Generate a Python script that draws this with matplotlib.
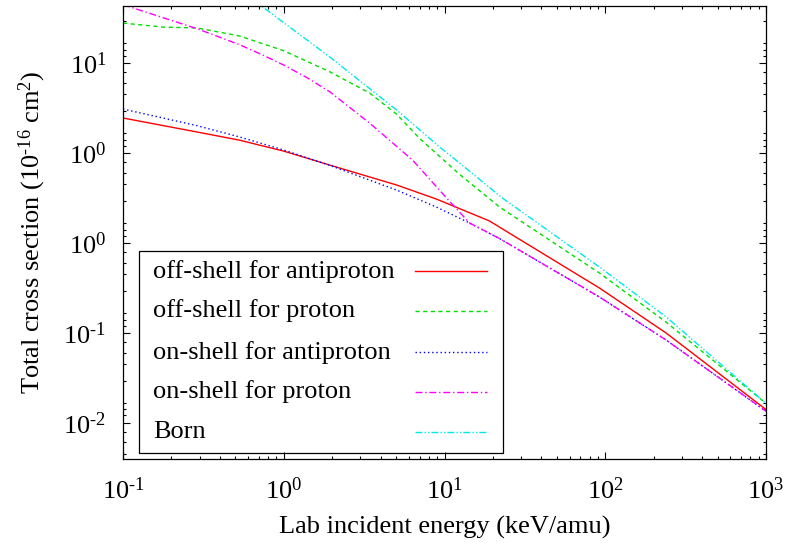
import numpy as np
import matplotlib.pyplot as plt
from matplotlib.ticker import FixedLocator, FixedFormatter, LogLocator, NullFormatter
from matplotlib.patches import Rectangle
from matplotlib.lines import Line2D

plt.rcParams['font.family'] = 'Liberation Serif'
plt.rcParams['mathtext.fontset'] = 'custom'
plt.rcParams['mathtext.rm'] = 'Liberation Serif'
plt.rcParams['mathtext.it'] = 'Liberation Serif:italic'
plt.rcParams['font.size'] = 19

# energies in keV/amu, cross sections in 1e-16 cm^2
e_off_pbar = [0.1, 0.29, 0.53, 1.0, 1.93, 5.04, 8.9, 19, 22, 92, 239, 1000]
s_off_pbar = [24.5, 17.1, 13.9, 10.5, 7.35, 4.41, 3.08, 1.76, 1.50, 0.316, 0.100, 0.0141]

e_off_p = [0.1, 0.177, 0.29, 0.53, 1.0, 1.93, 3.42, 5.04, 7.0, 12.4, 22, 92, 239, 1000]
s_off_p = [278, 251, 245, 200, 137, 80, 46.4, 27.0, 14.5, 5.8, 2.51, 0.464, 0.132, 0.0165]

e_on_pbar = [0.1, 0.29, 0.53, 1.0, 1.93, 5.04, 8.9, 14.3, 22, 92, 239, 1000]
s_on_pbar = [30.8, 20.1, 15.1, 10.8, 7.3, 3.87, 2.51, 1.67, 1.12, 0.251, 0.0836, 0.0135]

e_on_p = [0.1, 0.29, 0.53, 0.73, 1.0, 1.39, 1.93, 3.42, 6.32, 10.3, 14.3, 22, 92, 239, 1000]
s_on_p = [445, 240, 160, 124, 95, 69, 48, 21.5, 8.36, 3.16, 1.67, 1.12, 0.251, 0.0836, 0.0135]

e_born = [0.63, 0.74, 1.93, 5.04, 9.31, 12.4, 22.9, 92, 239, 1000]
s_born = [520, 419, 117, 30, 11.7, 7.74, 3.16, 0.541, 0.151, 0.0165]

labels = ['off-shell for antiproton', 'off-shell for proton',
          'on-shell for antiproton', 'on-shell for proton', 'Born']
colors = ['#ff0000', '#00e000', '#0000ff', '#ff00ff', '#00e8e8']
styles = ['-', (0, (3, 2.5)), (0, (1, 2)), (0, (5, 2, 1, 2)),
          (0, (5, 1.5, 1, 1.5, 1, 1.5))]

series = [(e_off_pbar, s_off_pbar), (e_off_p, s_off_p), (e_on_pbar, s_on_pbar),
          (e_on_p, s_on_p), (e_born, s_born)]

y_major = [1e2, 1e1, 1e0, 1e-1, 1e-2]
y_major_labels = [r'$10^{1}$', r'$10^{0}$', r'$10^{0}$', r'$10^{\text{-}1}$', r'$10^{\text{-}2}$']
x_major = [1e-1, 1e0, 1e1, 1e2, 1e3]
x_major_labels = [r'$10^{\text{-}1}$', r'$10^{0}$', r'$10^{1}$', r'$10^{2}$', r'$10^{3}$']

fig = plt.figure(figsize=(7.86, 5.48), dpi=100)
ax = fig.add_axes([0.1565, 0.1624, 0.8181, 0.8266])

for (e, s), c, ls in zip(series, colors, styles):
    ax.plot(e, s, color=c, linestyle=ls, lw=1.0)

ax.set_xscale('log')
ax.set_yscale('log')
ax.set_xlim(0.1, 1000)
ax.set_ylim(0.00398, 430)

ax.xaxis.set_major_locator(FixedLocator(x_major))
ax.xaxis.set_major_formatter(FixedFormatter(x_major_labels))
ax.xaxis.set_minor_locator(LogLocator(base=10, subs=np.arange(2, 10)))
ax.xaxis.set_minor_formatter(NullFormatter())

# minor ticks on y sit at fixed fractions of a decade below each major
offs = np.array([9, 19.5, 31, 48, 70, 76.5, 82.5]) / 90.0
y_minor = [m * 10 ** (-d) for m in [1e3] + y_major for d in offs]
ax.yaxis.set_major_locator(FixedLocator(y_major))
ax.yaxis.set_major_formatter(FixedFormatter(y_major_labels))
ax.yaxis.set_minor_locator(FixedLocator(y_minor))
ax.yaxis.set_minor_formatter(NullFormatter())

ax.tick_params(which='both', direction='in', top=True, right=True, width=0.8)
ax.tick_params(which='major', length=5)
ax.tick_params(which='minor', length=2.5)
ax.tick_params(axis='x', which='major', pad=13)
ax.tick_params(axis='y', which='major', pad=12)
for sp in ax.spines.values():
    sp.set_linewidth(0.9)

ax.set_xlabel('Lab incident energy (keV/amu)', labelpad=9)
ax.set_ylabel(r'Total cross section (10$^{\text{-}16}$ cm$^{2}$)')
ax.yaxis.set_label_coords(-0.1166, 0.5)

# key box with text on the left and line samples on the right
ax.add_patch(Rectangle((0.0249, 0.0132), 0.566, 0.446, transform=ax.transAxes,
                       fill=False, lw=0.9, ec='black', zorder=5))
rows = [0.415, 0.327, 0.236, 0.148, 0.0596]
for y, lab, c, ls in zip(rows, labels, colors, styles):
    ax.text(0.0467, y, lab, transform=ax.transAxes, ha='left', va='center', zorder=6)
    ax.add_line(Line2D([0.454, 0.566], [y, y], transform=ax.transAxes,
                       color=c, linestyle=ls, lw=1.0, zorder=6))

fig.savefig('out.png', dpi=100)
